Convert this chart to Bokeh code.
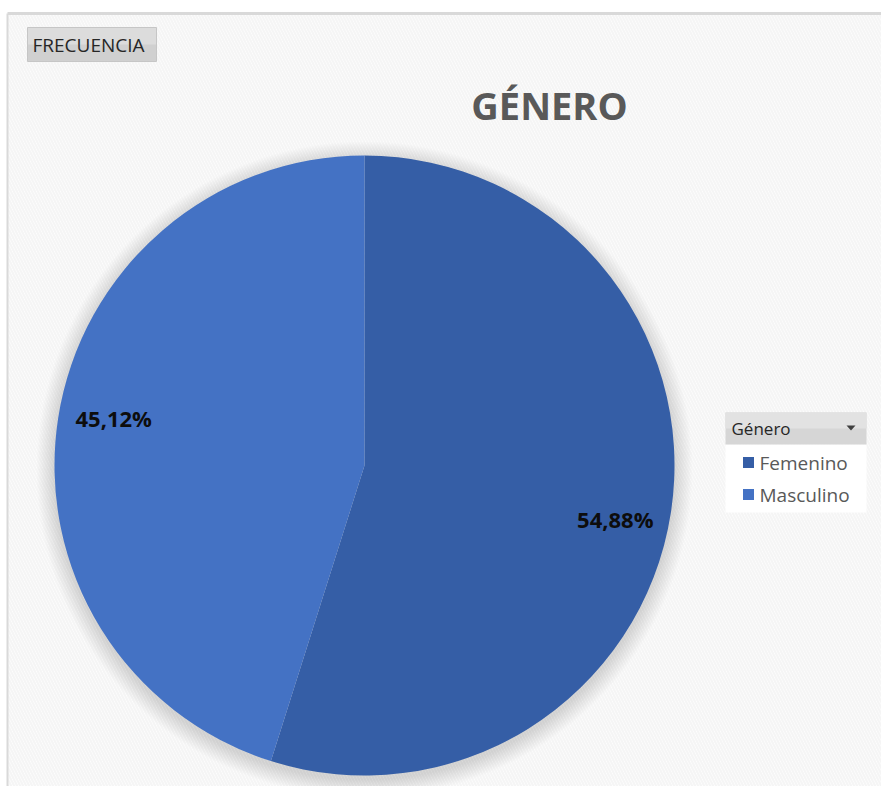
import math
from bokeh.plotting import figure
from bokeh.models import Range1d
from bokeh.core.properties import value
from bokeh.embed import file_html
from bokeh.resources import INLINE

# ---- data ----
categories = ["Femenino", "Masculino"]
shares = [54.88, 45.12]
share_labels = ["54,88%", "45,12%"]
colors = ["#355EA6", "#4472C4"]
title = "GÉNERO"
field_button = "FRECUENCIA"
legend_title = "Género"

W, H = 881, 786
p = figure(width=W, height=H, output_backend="svg", toolbar_location=None,
           x_range=Range1d(0, W), y_range=Range1d(0, H), min_border=0)
p.axis.visible = False
p.grid.visible = False
p.outline_line_color = None
p.background_fill_color = "white"
p.border_fill_color = "white"

def Y(sy):
    return H - sy

def X(sx):
    return sx

# chart area background with faint diagonal pattern
top = Y(13)
p.quad(left=[X(7)], right=[W], bottom=[0], top=[top], fill_color="#fefefe",
       line_color=None, hatch_pattern="left_diagonal_line", hatch_color="#eeeeee",
       hatch_scale=6, hatch_weight=2, hatch_alpha=0.6)
p.line(x=[X(7), X(7)], y=[0, top], line_color="#d9d9d9", line_width=2)
p.line(x=[X(7), W], y=[top, top], line_color="#d9d9d9", line_width=3)

# pie
cx, cy, r = X(364), Y(465), 310
for i in range(18):
    p.circle(x=[cx], y=[cy - 4], radius=r + 18 - i, fill_color="black",
             fill_alpha=0.008, line_color=None)

start = math.pi / 2
angles = []
a = start
for s in shares:
    a_end = a - 2 * math.pi * s / 100.0
    angles.append((a_end, a))
    a = a_end

for (a0, a1), col in zip(angles, colors):
    p.wedge(x=[cx], y=[cy], radius=r, start_angle=[a0], end_angle=[a1],
            direction="anticlock", fill_color=col, line_color=None)

for (a0, a1), lab in zip(angles, share_labels):
    mid = (a0 + a1) / 2 - math.radians(2.5)
    lx = cx + 0.825 * r * math.cos(mid)
    ly = cy + 0.825 * r * math.sin(mid) - 3
    p.text(x=[lx], y=[ly], text=[lab], text_align="center", text_baseline="middle",
           text_font=value("Open Sans"), text_font_style="bold",
           text_font_size="22px", text_color="#0d0d0d")

# title
p.text(x=[X(549)], y=[Y(104)], text=[title], text_align="center",
       text_baseline="middle", text_font=value("Open Sans"),
       text_font_style="bold", text_font_size="38px", text_color="#595959")

# field button
p.quad(left=[X(27)], right=[X(156)], bottom=[Y(61)], top=[Y(27)],
       fill_color="#d0d0d0", line_color="#c6c6c6")
p.quad(left=[X(27.5)], right=[X(155.5)], bottom=[Y(44)], top=[Y(27.5)],
       fill_color="#dcdcdc", line_color=None)
p.text(x=[X(32)], y=[Y(44)], text=[field_button], text_align="left",
       text_baseline="middle", text_font=value("Open Sans"),
       text_font_size="19px", text_color="#262626")

# legend
p.quad(left=[X(725)], right=[X(866)], bottom=[Y(512)], top=[Y(444)],
       fill_color="white", line_color=None)
p.quad(left=[X(725)], right=[X(866)], bottom=[Y(444)], top=[Y(412)],
       fill_color="#d6d6d6", line_color=None)
p.quad(left=[X(725)], right=[X(866)], bottom=[Y(428)], top=[Y(412)],
       fill_color="#e2e2e2", line_color=None)
p.text(x=[X(731)], y=[Y(428)], text=[legend_title], text_align="left",
       text_baseline="middle", text_font=value("Open Sans"),
       text_font_size="17px", text_color="#262626")
p.patch(x=[X(846), X(855), X(850.5)], y=[Y(425), Y(425), Y(430)],
        fill_color="#404040", line_color=None)
for i, (cat, col) in enumerate(zip(categories, colors)):
    sy = 462 + 32 * i
    p.rect(x=[X(748)], y=[Y(sy)], width=11, height=11, fill_color=col,
           line_color=None)
    p.text(x=[X(759)], y=[Y(sy)], text=[cat], text_align="left",
           text_baseline="middle", text_font=value("Open Sans"),
           text_font_size="19px", text_color="#595959")

open("out.html", "w").write(file_html(p, INLINE))
